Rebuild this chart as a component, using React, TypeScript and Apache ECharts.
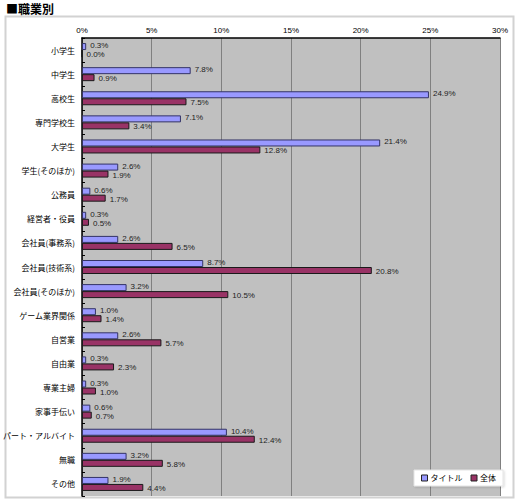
import React, { useEffect, useRef } from "react";
import * as echarts from "echarts";

const categories = [
  "小学生",
  "中学生",
  "高校生",
  "専門学校生",
  "大学生",
  "学生(そのほか)",
  "公務員",
  "経営者・役員",
  "会社員(事務系)",
  "会社員(技術系)",
  "会社員(そのほか)",
  "ゲーム業界関係",
  "自営業",
  "自由業",
  "専業主婦",
  "家事手伝い",
  "パート・アルバイト",
  "無職",
  "その他",
];
const titleValues = [0.3, 7.8, 24.9, 7.1, 21.4, 2.6, 0.6, 0.3, 2.6, 8.7, 3.2, 1.0, 2.6, 0.3, 0.3, 0.6, 10.4, 3.2, 1.9];
const allValues = [0.0, 0.9, 7.5, 3.4, 12.8, 1.9, 1.7, 0.5, 6.5, 20.8, 10.5, 1.4, 5.7, 2.3, 1.0, 0.7, 12.4, 5.8, 4.4];
const seriesNames = ["タイトル", "全体"];
const xTicks = { min: 0, max: 30, interval: 5 };

const JP = "'Noto Sans CJK JP', 'Liberation Sans', sans-serif";

export default function App() {
  const ref = useRef<HTMLDivElement>(null);
  useEffect(() => {
    if (!ref.current) return;
    const chart = echarts.init(ref.current, undefined, { renderer: "svg" });
    const label = {
      show: true,
      position: "right" as const,
      distance: 4,
      fontSize: 8,
      color: "#222",
      fontFamily: "'Liberation Sans', Arial, sans-serif",
      formatter: (p: any) => Number(p.value).toFixed(1) + "%",
    };
    chart.setOption({
      animation: false,
      textStyle: { fontFamily: JP },
      graphic: [
        {
          type: "rect",
          shape: { x: 5.5, y: 16.5, width: 508, height: 481 },
          style: { fill: "none", stroke: "#d2d2d2", lineWidth: 2 },
          silent: true,
        },
        {
          type: "text",
          left: 6,
          top: 2,
          style: {
            text: "■職業別",
            fill: "#000",
            font: "bold 12px 'Noto Sans CJK JP'",
          },
        },
      ],
      legend: {
        data: seriesNames.map((n) => ({ name: n, icon: "rect" })),
        right: 17,
        top: 470,
        orient: "horizontal",
        itemWidth: 6,
        itemHeight: 6,
        itemGap: 8,
        padding: [4, 7, 4, 7],
        backgroundColor: "#fff",
        borderColor: "#e4e4e4",
        borderWidth: 1,
        shadowColor: "rgba(0,0,0,0.15)",
        shadowBlur: 2,
        shadowOffsetX: 1,
        shadowOffsetY: 1,
        itemStyle: { borderColor: "#222", borderWidth: 1 },
        textStyle: { fontSize: 8, color: "#000", fontFamily: JP, padding: [0, 0, 0, -2] },
      },
      grid: {
        left: 78,
        right: 20,
        top: 38,
        bottom: 8,
        show: true,
        backgroundColor: "#c0c0c0",
        borderWidth: 0,
        containLabel: false,
      },
      xAxis: {
        type: "value",
        position: "top",
        min: xTicks.min,
        max: xTicks.max,
        interval: xTicks.interval,
        axisLine: { show: true, lineStyle: { color: "#000", width: 1.5 } },
        axisTick: { show: false },
        axisLabel: {
          formatter: "{value}%",
          fontSize: 8,
          color: "#000",
          margin: 4,
          fontFamily: "'Liberation Sans', Arial, sans-serif",
        },
        splitLine: { show: true, lineStyle: { color: "#808080", width: 1 } },
      },
      yAxis: {
        type: "category",
        data: categories,
        inverse: true,
        axisLine: { show: true, lineStyle: { color: "#000", width: 1.5 } },
        axisTick: { show: true, inside: true, length: 3, lineStyle: { color: "#000" } },
        axisLabel: { fontSize: 8, color: "#000", margin: 7, fontFamily: JP },
      },
      series: [
        {
          name: seriesNames[0],
          type: "bar",
          data: titleValues,
          barWidth: 7,
          barGap: "0%",
          itemStyle: { color: "#9999ff", borderColor: "#333366", borderWidth: 1 },
          label: { ...label, offset: [0, -1] },
        },
        {
          name: seriesNames[1],
          type: "bar",
          data: allValues,
          barWidth: 7,
          barGap: "0%",
          itemStyle: { color: "#993366", borderColor: "#1a1a1a", borderWidth: 1 },
          label: { ...label, offset: [0, 1] },
        },
      ],
    });
    return () => chart.dispose();
  }, []);
  return (
    <div
      ref={ref}
      style={{ position: "fixed", left: 0, top: 0, width: 520, height: 504, background: "#fff" }}
    />
  );
}
